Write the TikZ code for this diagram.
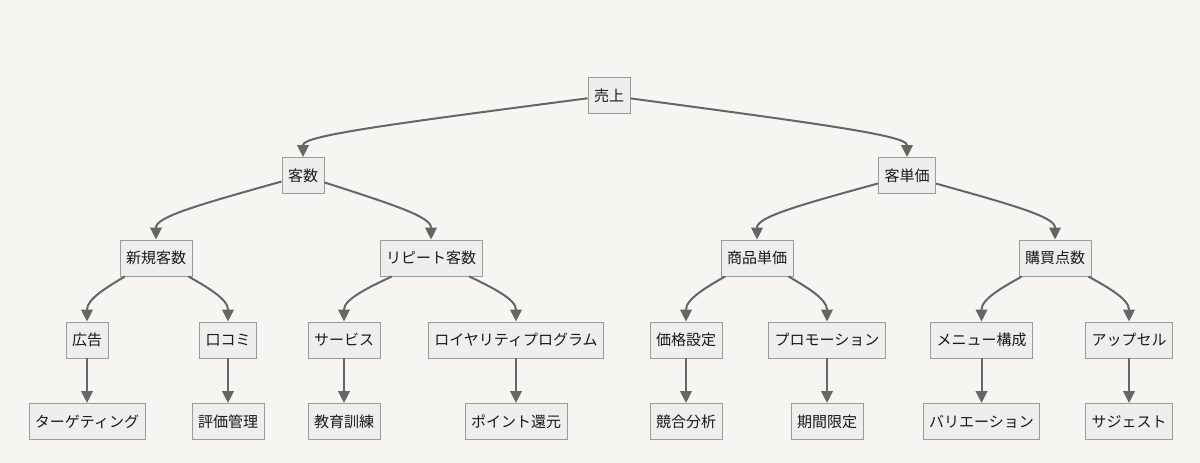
\documentclass[tikz,border=0pt]{standalone}
\usepackage{fontspec}
\newfontfamily\jpfont{Noto Sans CJK JP}
\usetikzlibrary{arrows.meta,calc}
\definecolor{bgc}{HTML}{F6F5F1}
\definecolor{boxfill}{HTML}{EEEEEE}
\definecolor{boxline}{HTML}{9A9A9A}
\definecolor{edgec}{HTML}{666666}
\tikzset{
  box/.style={draw=boxline, fill=boxfill, line width=0.9pt, minimum height=36pt,
    inner xsep=6pt, inner ysep=0pt, font=\jpfont\fontsize{15pt}{17pt}\selectfont, text=black!90},
  arr/.style={draw=edgec, line width=2pt, -{Triangle[length=12pt,width=11.5pt]}}
}
\newcommand\curvedge[2]{%
  \path ($(#1.south)!0.5!(#2.north)$) coordinate (m-#1-#2);
  \path (#2.north |- m-#1-#2) coordinate (b-#1-#2);
  \path ($(#2.north)+(0,-12)$) coordinate (e-#1-#2);
  \draw[arr] (#1) .. controls ($(#1)!0.7!(b-#1-#2)$) and (b-#1-#2) .. (e-#1-#2) -- (#2.north);}
\newcommand\straightedge[2]{\draw[arr] (#1.south) -- (#2.north);}
\begin{document}
\begin{tikzpicture}[x=1pt,y=-1pt]
\fill[bgc] (0,0) rectangle (1200,463);
\useasboundingbox (0,0) rectangle (1200,463);
\node[box] (root) at (609,95.5) {売上};
\node[box] (kyaku) at (303,175.5) {客数};
\node[box] (tanka) at (907,175.5) {客単価};
\node[box] (shinki) at (156,258) {新規客数};
\node[box] (rep) at (431,258) {リピート客数};
\node[box] (shohin) at (757,258) {商品単価};
\node[box] (kobai) at (1055,258) {購買点数};
\node[box] (kokoku) at (87,340) {広告};
\node[box] (kuchi) at (228,340) {口コミ};
\node[box] (serv) at (344,340) {サービス};
\node[box] (loyal) at (516,340) {ロイヤリティプログラム};
\node[box] (kakaku) at (686,340) {価格設定};
\node[box] (promo) at (827,340) {プロモーション};
\node[box] (menu) at (981.5,340) {メニュー構成};
\node[box] (upsell) at (1129,340) {アップセル};
\node[box] (target) at (87,421.5) {ターゲティング};
\node[box] (hyoka) at (228,421.5) {評価管理};
\node[box] (kyoiku) at (344,421.5) {教育訓練};
\node[box] (point) at (516,421.5) {ポイント還元};
\node[box] (kyogo) at (686,421.5) {競合分析};
\node[box] (kikan) at (827,421.5) {期間限定};
\node[box] (vari) at (981.5,421.5) {バリエーション};
\node[box] (sugg) at (1129,421.5) {サジェスト};
\curvedge{root}{kyaku}
\curvedge{root}{tanka}
\curvedge{kyaku}{shinki}
\curvedge{kyaku}{rep}
\curvedge{tanka}{shohin}
\curvedge{tanka}{kobai}
\curvedge{shinki}{kokoku}
\curvedge{shinki}{kuchi}
\curvedge{rep}{serv}
\curvedge{rep}{loyal}
\curvedge{shohin}{kakaku}
\curvedge{shohin}{promo}
\curvedge{kobai}{menu}
\curvedge{kobai}{upsell}
\straightedge{kokoku}{target}
\straightedge{kuchi}{hyoka}
\straightedge{serv}{kyoiku}
\straightedge{loyal}{point}
\straightedge{kakaku}{kyogo}
\straightedge{promo}{kikan}
\straightedge{menu}{vari}
\straightedge{upsell}{sugg}
\end{tikzpicture}
\end{document}
